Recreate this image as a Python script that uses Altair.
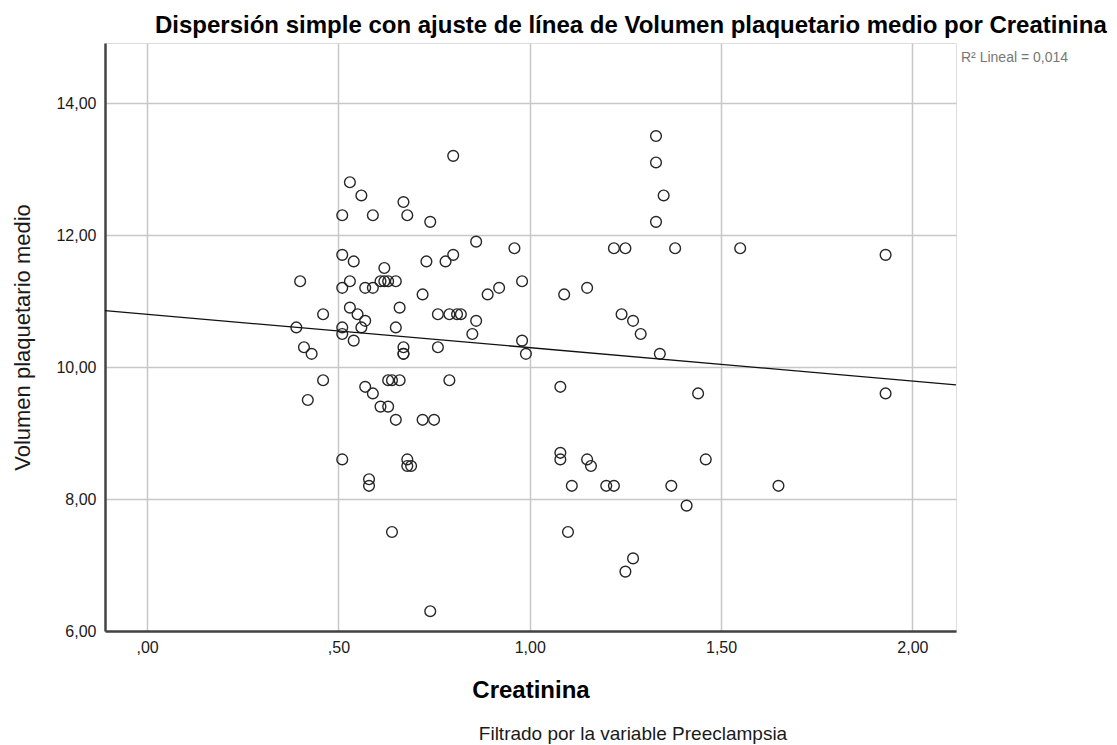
import altair as alt
import pandas as pd

creatinina = [
    0.80, 0.53, 0.56, 0.67, 0.51, 0.59, 0.68, 0.74, 0.86, 0.96,
    0.51, 0.80, 0.54, 0.73, 0.78, 0.62, 0.40, 0.53, 0.61, 0.62,
    0.63, 0.65, 0.98, 0.51, 0.57, 0.59, 0.92, 0.72, 0.89, 0.53,
    0.66, 0.46, 0.55, 0.76, 0.79, 0.81, 0.82, 0.86, 0.57, 0.39,
    0.51, 0.51, 0.56, 0.65, 0.85, 0.54, 0.98, 0.99, 0.41, 0.43,
    0.67, 0.67, 0.67, 0.76, 0.46, 0.63, 0.64, 0.66, 0.79, 0.57,
    0.59, 0.42, 0.61, 0.63, 0.65, 0.72, 0.75, 0.51, 0.68, 0.68,
    0.69, 0.58, 0.58, 0.64, 0.74,
    1.33, 1.33, 1.35, 1.33, 1.22, 1.25, 1.38, 1.55, 1.15, 1.09,
    1.24, 1.27, 1.29, 1.34, 1.08, 1.44, 1.08, 1.08, 1.15, 1.16,
    1.46, 1.11, 1.20, 1.22, 1.37, 1.65, 1.41, 1.10, 1.27, 1.25,
    1.93, 1.93,
]
vpm = [
    13.2, 12.8, 12.6, 12.5, 12.3, 12.3, 12.3, 12.2, 11.9, 11.8,
    11.7, 11.7, 11.6, 11.6, 11.6, 11.5, 11.3, 11.3, 11.3, 11.3,
    11.3, 11.3, 11.3, 11.2, 11.2, 11.2, 11.2, 11.1, 11.1, 10.9,
    10.9, 10.8, 10.8, 10.8, 10.8, 10.8, 10.8, 10.7, 10.7, 10.6,
    10.6, 10.5, 10.6, 10.6, 10.5, 10.4, 10.4, 10.2, 10.3, 10.2,
    10.3, 10.2, 10.2, 10.3, 9.8, 9.8, 9.8, 9.8, 9.8, 9.7,
    9.6, 9.5, 9.4, 9.4, 9.2, 9.2, 9.2, 8.6, 8.6, 8.5,
    8.5, 8.3, 8.2, 7.5, 6.3,
    13.5, 13.1, 12.6, 12.2, 11.8, 11.8, 11.8, 11.8, 11.2, 11.1,
    10.8, 10.7, 10.5, 10.2, 9.7, 9.6, 8.7, 8.6, 8.6, 8.5,
    8.6, 8.2, 8.2, 8.2, 8.2, 8.2, 7.9, 7.5, 7.1, 6.9,
    11.7, 9.6,
]
x_ticks = [0.0, 0.5, 1.0, 1.5, 2.0]
y_ticks = [6, 8, 10, 12, 14]
x_domain = [-0.11, 2.114]
y_domain = [6.0, 14.91]

title_text = "Dispersión simple con ajuste de línea de Volumen plaquetario medio por Creatinina"
r2_text = "R² Lineal = 0,014"
footnote_text = "Filtrado por la variable Preeclampsia"

FONT = "Liberation Sans"
df = pd.DataFrame({"creatinina": creatinina, "vpm": vpm})

x_scale = alt.Scale(domain=x_domain, nice=False, zero=False)
y_scale = alt.Scale(domain=y_domain, nice=False, zero=False)

x_axis = alt.Axis(
    values=x_ticks, grid=True, gridColor="#c8c8c8", gridWidth=1.5,
    labelExpr="datum.value < 1 ? replace(format(datum.value, '.2f'), '0.', ',') : replace(format(datum.value, '.2f'), '.', ',')",
    labelFont=FONT, labelFontSize=16, labelColor="#1a1a1a", labelPadding=8,
    ticks=False, domain=True, domainColor="#444444", domainWidth=2.5,
    title="Creatinina", titleFont=FONT, titleFontSize=24, titleFontWeight="bold",
    titleColor="#000000", titleX=425.5, titleY=66, titleBaseline="alphabetic",
    titleAlign="center",
)
y_axis = alt.Axis(
    values=y_ticks, grid=True, gridColor="#c8c8c8", gridWidth=1.5,
    labelExpr="replace(format(datum.value, '.2f'), '.', ',')",
    labelFont=FONT, labelFontSize=16, labelColor="#1a1a1a", labelPadding=9,
    ticks=False, domain=True, domainColor="#444444", domainWidth=2.5,
    title="Volumen plaquetario medio", titleFont=FONT, titleFontSize=22,
    titleFontWeight="normal", titleColor="#1a1a1a", titleAngle=-90,
    titleX=-83, titleY=294, titleBaseline="middle", titleAlign="center",
)

points = alt.Chart(df).mark_point(
    shape="circle", filled=False, size=115, stroke="#262626", strokeWidth=1.4, opacity=1
).encode(
    x=alt.X("creatinina:Q", scale=x_scale, axis=x_axis),
    y=alt.Y("vpm:Q", scale=y_scale, axis=y_axis),
)

fit = alt.Chart(df).transform_regression(
    "creatinina", "vpm", extent=x_domain
).mark_line(color="#111111", strokeWidth=1.3).encode(
    x=alt.X("creatinina:Q", scale=x_scale),
    y=alt.Y("vpm:Q", scale=y_scale),
)

title = alt.Chart(alt.Data(values=[{"t": title_text}])).mark_text(
    align="left", baseline="alphabetic", font=FONT, fontSize=24, fontWeight="bold", color="#000000"
).encode(x=alt.value(50), y=alt.value(-10), text="t:N")

r2 = alt.Chart(alt.Data(values=[{"t": r2_text}])).mark_text(
    align="left", baseline="alphabetic", font=FONT, fontSize=14, color="#777777"
).encode(x=alt.value(856), y=alt.value(19), text="t:N")

foot = alt.Chart(alt.Data(values=[{"t": footnote_text}])).mark_text(
    align="center", baseline="alphabetic", font=FONT, fontSize=19, color="#1a1a1a"
).encode(x=alt.value(528), y=alt.value(697), text="t:N")

chart = alt.layer(points, fit, title, r2, foot).properties(
    width=851,
    height=588,
    padding={"left": 105, "top": 43, "right": 161, "bottom": 114},
    autosize=alt.AutoSizeParams(type="none"),
).configure_view(
    stroke="#444444", strokeWidth=1.5
).configure(background="white")

chart.save("out.html", embed_options={"renderer": "svg", "actions": False})
